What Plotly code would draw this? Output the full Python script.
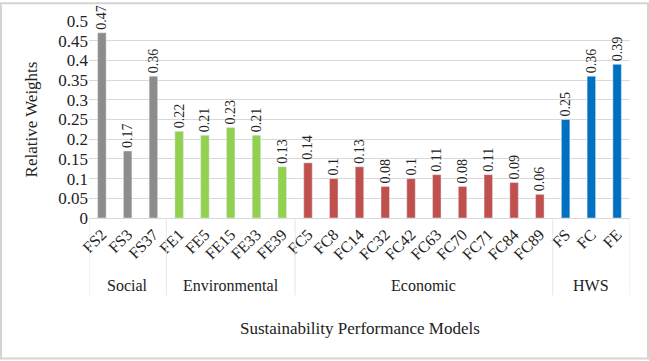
import plotly.graph_objects as go

categories = ["FS2", "FS3", "FS37", "FE1", "FE5", "FE15", "FE33", "FE39",
              "FC5", "FC8", "FC14", "FC32", "FC42", "FC63", "FC70", "FC71", "FC84", "FC89",
              "FS", "FC", "FE"]
values = [0.47, 0.17, 0.36, 0.22, 0.21, 0.23, 0.21, 0.13,
          0.14, 0.10, 0.13, 0.08, 0.10, 0.11, 0.08, 0.11, 0.09, 0.06,
          0.25, 0.36, 0.39]
groups = ["Social", "Environmental", "Economic", "HWS"]
group_sizes = [3, 5, 10, 3]
group_colors = ["#8C8C8C", "#92D050", "#C0504D", "#0070C0"]

colors = []
for c, n in zip(group_colors, group_sizes):
    colors += [c] * n

W, H = 649, 361
L, R, T, B = 89, 19, 19, 143
pw, ph = W - L - R, H - T - B

FONT = "Liberation Serif, Times New Roman, serif"

fig = go.Figure(go.Bar(
    x=categories, y=values, marker_color=colors, width=0.33,
    text=[f"{v:g}" for v in values], textposition="outside", textangle=-90,
    textfont=dict(family=FONT, size=14, color="#222"), cliponaxis=False,
    hoverinfo="x+y",
))

shapes = []
annotations = []
start = 0
bounds = [-0.5]
for g, n in zip(groups, group_sizes):
    mid = start + (n - 1) / 2
    annotations.append(dict(x=mid, y=-(286 - 218) / ph, xref="x", yref="paper",
                            text=g, showarrow=False, yanchor="middle",
                            font=dict(family=FONT, size=16, color="#222")))
    start += n
    bounds.append(start - 0.5)
for b in bounds:
    shapes.append(dict(type="line", xref="x", yref="paper", x0=b, x1=b,
                       y0=0, y1=-(296 - 218) / ph, line=dict(color="#e6e6e6", width=1)))
# outer border
shapes.append(dict(type="rect", xref="paper", yref="paper",
                   x0=-(L - 1) / pw, x1=(pw + R - 1) / pw,
                   y0=-(B - 1) / ph, y1=(ph + T - 1) / ph,
                   line=dict(color="#d4d4d4", width=2)))

annotations.append(dict(x=0.5, y=-(330 - 218) / ph, xref="paper", yref="paper",
                        text="Sustainability Performance Models", showarrow=False,
                        yanchor="middle", font=dict(family=FONT, size=17, color="#222")))

fig.update_layout(
    width=W, height=H, margin=dict(l=L, r=R, t=T, b=B),
    paper_bgcolor="white", plot_bgcolor="white", showlegend=False,
    font=dict(family=FONT, color="#222"),
    uniformtext=dict(minsize=14, mode="show"),
    shapes=shapes, annotations=annotations,
    xaxis=dict(type="category", tickangle=-45, tickfont=dict(family=FONT, size=16),
               showline=True, linecolor="#d9d9d9", ticks="", range=[-0.5, len(categories) - 0.5]),
    yaxis=dict(range=[0, 0.5], dtick=0.05, tickformat="~g", showgrid=True, gridcolor="#d9d9d9",
               zeroline=False, tickfont=dict(family=FONT, size=17),
               title=dict(text="Relative Weights", font=dict(family=FONT, size=17), standoff=16)),
)

fig.write_html("out.html")
